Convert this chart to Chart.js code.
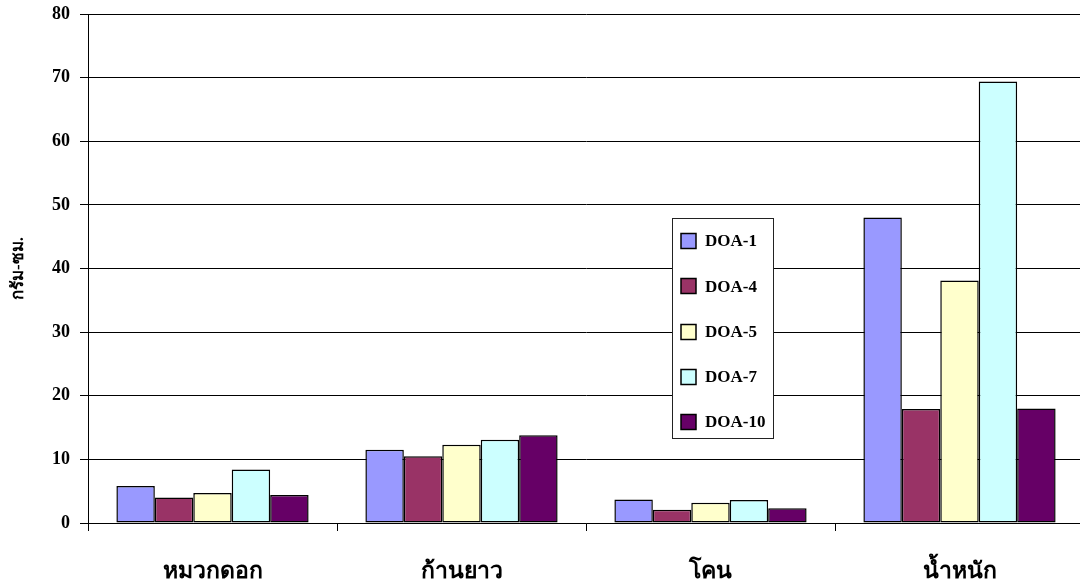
<!DOCTYPE html>
<html>
<head>
<meta charset="utf-8">
<script src="https://cdn.jsdelivr.net/npm/chart.js@4.4.1/dist/chart.umd.min.js"></script>
<style>
  html, body { margin: 0; padding: 0; background: #fff; overflow: hidden; }
  #wrap { width: 1080px; height: 585px; position: relative; overflow: hidden; }
</style>
</head>
<body>
<!-- the plot runs a few pixels past the right edge of the page -->
<div id="wrap"><canvas id="c" width="1084" height="585"></canvas></div>
<script>
// Categories along the x axis
const categories = ['หมวกดอก', 'ก้านยาว', 'โคน', 'น้ำหนัก'];

// Series (one per variety)
const seriesNames = ['DOA-1', 'DOA-4', 'DOA-5', 'DOA-7', 'DOA-10'];
const doa1  = [5.8, 11.5, 3.7, 48.0];
const doa4  = [4.0, 10.5, 2.1, 17.9];
const doa5  = [4.7, 12.3, 3.2, 38.1];
const doa7  = [8.4, 13.1, 3.6, 69.4];
const doa10 = [4.4, 13.8, 2.3, 18.0];
const seriesValues = [doa1, doa4, doa5, doa7, doa10];
const seriesColors = ['#9999FF', '#993366', '#FFFFCC', '#CCFFFF', '#660066'];

// Value axis
const yMin = 0, yMax = 80, yStep = 10;
const yTitle = 'กรัม-ซม.';

const FONT = "'Liberation Serif', 'Times New Roman', 'DejaVu Serif', serif";

// Boxed legend drawn inside the plot area
const boxLegend = {
  id: 'boxLegend',
  afterDraw(chart) {
    const ctx = chart.ctx;
    const x0 = 672.5, y0 = 218.5, w = 101, h = 220;
    ctx.save();
    ctx.fillStyle = '#fff';
    ctx.fillRect(x0, y0, w, h);
    ctx.strokeStyle = '#222';
    ctx.lineWidth = 1;
    ctx.strokeRect(x0, y0, w, h);
    ctx.font = "bold 17px " + FONT;
    ctx.textBaseline = 'middle';
    chart.data.datasets.forEach((ds, i) => {
      const cy = 241 + i * 45.25;
      ctx.fillStyle = ds.backgroundColor;
      ctx.fillRect(681, Math.round(cy - 8) + 0.5, 15, 15);
      ctx.strokeStyle = '#000';
      ctx.lineWidth = 1.5;
      ctx.strokeRect(681, Math.round(cy - 8) + 0.5, 15, 15);
      ctx.fillStyle = '#000';
      ctx.fillText(ds.label, 705, cy + 1);
    });
    ctx.restore();
  }
};

new Chart(document.getElementById('c'), {
  type: 'bar',
  data: {
    labels: categories,
    datasets: seriesNames.map((name, i) => ({
      label: name,
      data: seriesValues[i],
      backgroundColor: seriesColors[i],
      borderColor: '#000',
      borderWidth: 1.5,
      borderSkipped: false,
      categoryPercentage: 0.772,
      barPercentage: 1.0
    }))
  },
  options: {
    responsive: false,
    animation: false,
    layout: { padding: { top: 14, right: 0, left: 0, bottom: 0 } },
    plugins: {
      legend: { display: false },
      tooltip: { enabled: false }
    },
    scales: {
      x: {
        grid: {
          display: true,
          offset: true,
          drawOnChartArea: false,
          drawTicks: true,
          tickLength: 8,
          color: '#000'
        },
        border: { display: true, color: '#000', width: 1 },
        ticks: {
          color: '#000',
          padding: 27,
          font: { family: FONT, size: 23, weight: 'bold' }
        },
        afterFit(scale) {
          scale.height = 62;
          scale.paddingLeft = 0;
          scale.paddingRight = 0;
        }
      },
      y: {
        min: yMin,
        max: yMax,
        ticks: {
          stepSize: yStep,
          color: '#000',
          padding: 10,
          font: { family: FONT, size: 18, weight: 'bold' }
        },
        grid: {
          color: '#000',
          lineWidth: 1,
          drawTicks: true,
          tickLength: 8
        },
        border: { display: true, color: '#000', width: 1 },
        title: {
          display: true,
          text: yTitle,
          color: '#000',
          padding: { top: 8, bottom: 0 },
          font: { family: FONT, size: 17, weight: 'bold' }
        },
        afterFit(scale) {
          scale.width = 88;
          scale.paddingTop = 0;
          scale.paddingBottom = 0;
        }
      }
    }
  },
  plugins: [boxLegend]
});
</script>
</body>
</html>
